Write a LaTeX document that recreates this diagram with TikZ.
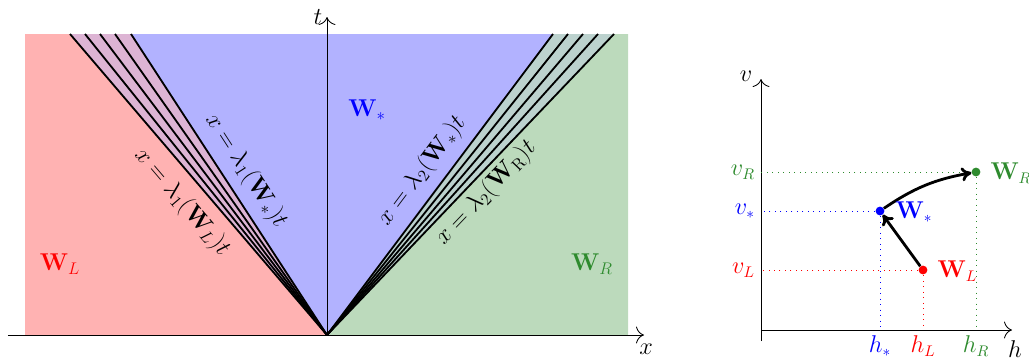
\documentclass[tikz,border=0pt]{standalone}
\usepackage{amsmath}
\usetikzlibrary{arrows.meta, calc}
\definecolor{cred}{HTML}{FF0000}
\definecolor{cblue}{HTML}{0000FF}
\definecolor{cgreen}{HTML}{2E8B2E}
\definecolor{fanleft}{HTML}{DDB4D4}
\definecolor{fanright}{HTML}{BCD2CE}
\tikzset{
  axis/.style={-{To[length=2mm]}, line width=0.6pt},
  axlab/.style={font=\fontsize{16}{19}\selectfont},
  wave/.style={line width=1.3pt},
  raylab/.style={font=\fontsize{17}{20}\selectfont, inner sep=1pt},
  state/.style={font=\fontsize{17}{20}\selectfont, text=#1},
  guide/.style={draw=#1, dash pattern=on 0.7pt off 3.2pt, line width=0.7pt},
  dot/.style={circle, fill=#1, inner sep=0pt, minimum size=2.2mm},
  jump/.style={-{To[length=2.5mm, width=3.5mm]}, line width=2pt},
  ptlab/.style={font=\fontsize{16}{19}\selectfont, text=#1, inner sep=1pt},
  ptstate/.style={font=\fontsize{16}{19}\selectfont, text=#1, inner sep=1pt, anchor=west},
}

\begin{document}
\begin{tikzpicture}
  \useasboundingbox (0,0) rectangle (25.725,9.025);
  % x-t plane: states and wave fans
  \coordinate (o) at (8.175,0.65);
  \fill[cred!30] (0.625,0.65) -- (o) -- (1.75,8.175) -- (0.625,8.175) -- cycle;
  \fill[fanleft] (o) -- (1.75,8.175) -- (3.275,8.175) -- cycle;
  \fill[cblue!30] (o) -- (3.275,8.175) -- (13.825,8.175) -- cycle;
  \fill[fanright] (o) -- (13.825,8.175) -- (15.35,8.175) -- cycle;
  \fill[cgreen!32] (o) -- (15.35,8.175) -- (15.7,8.175) -- (15.7,0.65) -- cycle;
  \foreach \xt in {1.75,2.125,2.5,2.875,3.275,13.825,14.2,14.575,14.95,15.35}
    \draw[wave] (o) -- (\xt,8.175);
  \draw[axis] (0.2,0.65) -- (16.1,0.65);
  \draw[axis] (o) -- (8.175,8.6);
  \node[axlab] (xlab) at (16.15,0.3) {$x$};
  \node[axlab] (tlab) at (7.95,8.6) {$t$};
  \node[raylab, rotate=-57] (l1s) at (6.15,4.75) {$x=\lambda_1(\mathbf{W}_*)t$};
  \node[raylab, rotate=-49.5] (l1l) at (4.55,3.975) {$x=\lambda_1(\mathbf{W}_L)t$};
  \node[raylab, rotate=53] (l2s) at (10.55,4.75) {$x=\lambda_2(\mathbf{W}_*)t$};
  \node[raylab, rotate=46.4] (l2r) at (12.15,4.2) {$x=\lambda_2(\mathbf{W}_\mathrm{R})t$};
  \node[state=cblue] (ws) at (9.175,6.275) {$\mathbf{W}_*$};
  \node[state=cred] (wl) at (1.5,2.425) {$\mathbf{W}_L$};
  \node[state=cgreen] (wr) at (14.8,2.425) {$\mathbf{W}_R$};
  % h-v plane
  \coordinate (o2) at (19.025,0.775);
  \draw[axis] (19.025,0.5) -- (19.025,7.05);
  \draw[axis] (o2) -- (25.3,0.775);
  \node[axlab] (vlab) at (18.65,7.125) {$v$};
  \node[axlab] (hlab) at (25.375,0.3) {$h$};
  \coordinate (pL) at (23.075,2.275);
  \coordinate (pS) at (22.0,3.75);
  \coordinate (pR) at (24.4,4.725);
  \draw[guide=cred] (pL) -- (pL -| o2) node[ptlab=cred, anchor=east, xshift=-3pt] (vL) {$v_L$};
  \draw[guide=cred] (pL) -- (pL |- o2) node[ptlab=cred, anchor=north, yshift=-3pt] (hL) {$h_L$};
  \draw[guide=cblue] (pS) -- (pS -| o2) node[ptlab=cblue, anchor=east, xshift=-3pt] (vS) {$v_*$};
  \draw[guide=cblue] (pS) -- (pS |- o2) node[ptlab=cblue, anchor=north, yshift=-3pt] (hS) {$h_*$};
  \draw[guide=cgreen] (pR) -- (pR -| o2) node[ptlab=cgreen, anchor=east, xshift=-3pt] (vR) {$v_R$};
  \draw[guide=cgreen] (pR) -- (pR |- o2) node[ptlab=cgreen, anchor=north, yshift=-3pt] (hR) {$h_R$};
  \node[dot=cred] (nL) at (pL) {};
  \node[dot=cblue] (nS) at (pS) {};
  \node[dot=cgreen] (nR) at (pR) {};
  \draw[jump] (nL) -- (nS);
  \draw[jump] (nS) to[bend left=12] (nR);
  \node[ptstate=cblue] (lS) at (22.35,3.72) {$\mathbf{W}_*$};
  \node[ptstate=cred] (lL) at (23.4,2.25) {$\mathbf{W}_L$};
  \node[ptstate=cgreen] (lR) at (24.72,4.7) {$\mathbf{W}_R$};
\end{tikzpicture}
\end{document}
